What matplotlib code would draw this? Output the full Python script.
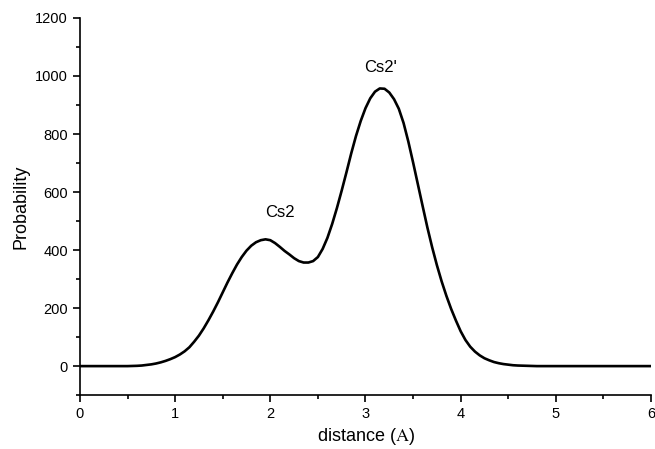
import matplotlib.pyplot as plt

plt.rcParams['font.family'] = ['Liberation Sans', 'DejaVu Sans']
plt.rcParams['mathtext.fontset'] = 'stix'

# values
dist = [0.0, 0.2, 0.4, 0.5, 0.55, 0.6, 0.65, 0.7, 0.75, 0.8,
        0.85, 0.9, 0.95, 1.0, 1.05, 1.1, 1.15, 1.2, 1.25, 1.3,
        1.35, 1.4, 1.45, 1.5, 1.55, 1.6, 1.65, 1.7, 1.75, 1.8,
        1.85, 1.9, 1.95, 2.0, 2.05, 2.1, 2.15, 2.2, 2.25, 2.3,
        2.35, 2.4, 2.45, 2.5, 2.55, 2.6, 2.65, 2.7, 2.75, 2.8,
        2.85, 2.9, 2.95, 3.0, 3.05, 3.1, 3.15, 3.2, 3.25, 3.3,
        3.35, 3.4, 3.45, 3.5, 3.55, 3.6, 3.65, 3.7, 3.75, 3.8,
        3.85, 3.9, 3.95, 4.0, 4.05, 4.1, 4.15, 4.2, 4.25, 4.3,
        4.35, 4.4, 4.45, 4.5, 4.55, 4.6, 4.7, 4.8, 5.0, 6.0]
prob = [0, 0, 0, 0, 0.5, 1, 2, 4, 6, 9,
        13, 18, 24, 31, 40, 51, 65, 84, 105, 130,
        158, 188, 220, 254, 288, 320, 350, 376, 398, 415,
        427, 434, 437, 434, 424, 411, 397, 385, 372, 362,
        357, 357, 362, 376, 404, 442, 490, 545, 605, 668,
        733, 793, 845, 889, 923, 946, 957, 956, 943, 920,
        887, 838, 774, 702, 627, 552, 478, 410, 348, 292,
        242, 197, 157, 120, 90, 67, 50, 37, 27, 20,
        14, 10, 7, 5, 3, 2, 1, 0, 0, 0]

fig = plt.figure(figsize=(6.55, 4.49), dpi=100)
ax = fig.add_axes([0.122, 0.120, 0.872, 0.840])

ax.plot(dist, prob, color='black', lw=1.9, solid_joinstyle='round')

ax.text(2.1, 530, 'Cs2', ha='center', va='center', fontsize=12)
ax.text(3.16, 1030, "Cs2'", ha='center', va='center', fontsize=12)

ax.set_xlim(0, 6)
ax.set_ylim(-100, 1200)
ax.set_xticks([0, 1, 2, 3, 4, 5, 6])
ax.set_xticks([0.5, 1.5, 2.5, 3.5, 4.5, 5.5], minor=True)
ax.set_yticks([0, 200, 400, 600, 800, 1000, 1200])
ax.set_yticks([-100, 100, 300, 500, 700, 900, 1100], minor=True)

ax.spines['top'].set_visible(False)
ax.spines['right'].set_visible(False)
ax.spines['left'].set_linewidth(1.2)
ax.spines['bottom'].set_linewidth(1.2)
ax.tick_params(which='major', direction='out', length=5, width=1.2, labelsize=10.5)
ax.tick_params(which='minor', direction='out', length=3, width=1.2)

ax.set_xlabel(r'distance ($\mathrm{A}$)', fontsize=13)
ax.set_ylabel('Probability', fontsize=13)

fig.savefig('out.png', dpi=100)
